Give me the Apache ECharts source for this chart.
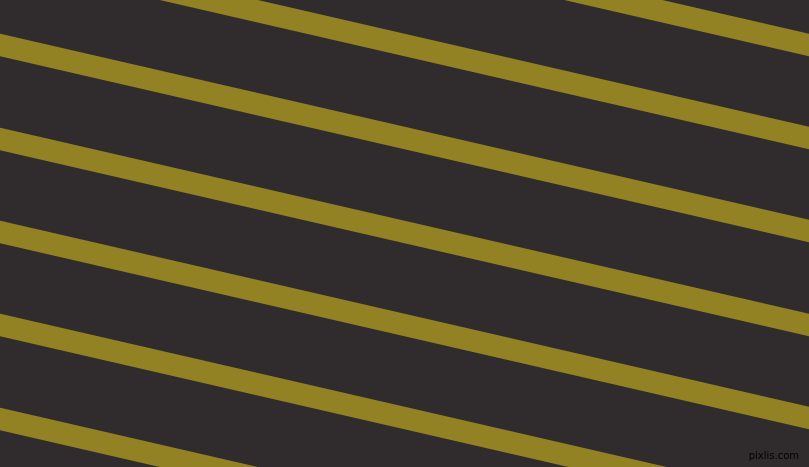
<!DOCTYPE html>
<html>
<head>
<meta charset="utf-8">
<script src="https://cdn.jsdelivr.net/npm/echarts@6/dist/echarts.min.js"></script>
<style>
  html, body { margin: 0; padding: 0; background: #302c2d; }
  #main { width: 809px; height: 467px; }
</style>
</head>
<body>
<div id="main"></div>
<script>
// stripe centre lines, y read at the left edge (x=0) and right edge (x=809)
var stripeX = [0, 809];
var stripeLeftY = [-141, -48, 45, 139, 232, 325, 419];
var stripeRightY = [45, 138, 231, 325, 418, 511, 605];
var watermark = 'pixlis.com';

var myChart = echarts.init(document.getElementById('main'));

var seriesArray = [];
for (var i = 0; i < stripeLeftY.length; i++) {
    seriesArray.push({
        type: 'line',
        data: [[stripeX[0], stripeLeftY[i]], [stripeX[1], stripeRightY[i]]],
        symbol: 'none',
        silent: true,
        lineStyle: { color: '#938224', width: 22, cap: 'square' }
    });
}

myChart.setOption({
    backgroundColor: '#302c2d',
    animation: false,
    grid: { left: 0, right: 0, top: 0, bottom: 0 },
    xAxis: { type: 'value', min: 0, max: 809, show: false },
    yAxis: { type: 'value', min: 0, max: 467, inverse: true, show: false },
    series: seriesArray,
    graphic: [{
        type: 'text',
        right: 10,
        bottom: 6,
        style: {
            text: watermark,
            fill: '#000',
            font: '10px "DejaVu Sans"'
        }
    }]
});
window.onresize = myChart.resize;
</script>
</body>
</html>
